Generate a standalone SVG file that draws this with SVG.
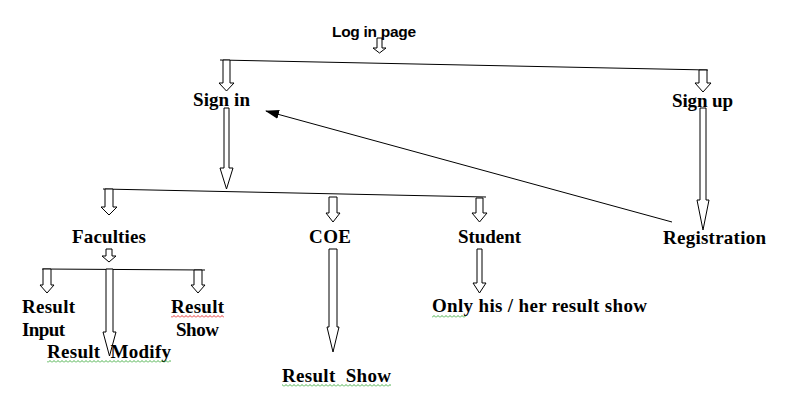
<svg xmlns="http://www.w3.org/2000/svg" width="798" height="416" viewBox="0 0 798 416">
<style>
.t{font-family:"Liberation Serif","Times New Roman",serif;font-weight:bold;font-size:19px;fill:#000}
.s{font-family:"Liberation Sans",Arial,sans-serif;font-weight:bold;font-size:15.5px;fill:#000}
.ba{fill:#fff;stroke:#000;stroke-width:1}
.ln{fill:none;stroke:#000;stroke-width:1}
</style>
<defs>
<marker id="ah" markerWidth="14" markerHeight="10" refX="13" refY="4.5" orient="auto" markerUnits="userSpaceOnUse">
<path d="M0,0 L14,4.5 L0,9 Z" fill="#000"/>
</marker>
<pattern id="wr" patternUnits="userSpaceOnUse" width="4" height="3">
<path d="M0,2.5 L2,0.5 L4,2.5" fill="none" stroke="#e00000" stroke-width="0.8"/>
</pattern>
<pattern id="wg" patternUnits="userSpaceOnUse" width="4" height="3">
<path d="M0,2.5 L2,0.5 L4,2.5" fill="none" stroke="#1a9a1a" stroke-width="0.8"/>
</pattern>
</defs>

<g id="connectors">
<line class="ln" x1="220" y1="60" x2="708" y2="70"/>
<line class="ln" x1="103" y1="189" x2="486" y2="197"/>
<line class="ln" x1="42" y1="269" x2="205" y2="270"/>
<line class="ln" x1="672" y1="222" x2="266" y2="111" marker-end="url(#ah)"/>
<path class="ba" d="M377,38 H382 V48 H386 L379.5,53 L373,48 H377 Z"/>
<path class="ba" d="M223,60 H230 V83 H234 L226.5,91 L219,83 H223 Z"/>
<path class="ba" d="M699,70 H707 V83 H711 L703,92 L695,83 H699 Z"/>
<path class="ba" d="M700,108 H706 V200 H709 L703,230 L697,200 H700 Z"/>
<path class="ba" d="M224,108 H229 V168 H233 L226.5,189 L220,168 H224 Z"/>
<path class="ba" d="M105,189 H113 V207 H117 L109,215 L101,207 H105 Z"/>
<path class="ba" d="M329,197 H337 V213 H340 L333,222 L326,213 H329 Z"/>
<path class="ba" d="M476,198 H483 V213 H487 L479.5,222 L472,213 H476 Z"/>
<path class="ba" d="M106,249 H112 V256 H116 L109,262 L102,256 H106 Z"/>
<path class="ba" d="M43,269 H51 V285 H54 L47,293 L40,285 H43 Z"/>
<path class="ba" d="M194,270 H202 V285 H205 L198,293 L191,285 H194 Z"/>
<path class="ba" d="M106,269 H113 V332 H116 L109.5,356 L103,332 H106 Z"/>
<path class="ba" d="M329,249 H337 V327 H339 L333,352 L327,327 H329 Z"/>
<path class="ba" d="M477,249 H482 V283 H486 L479.5,293 L473,283 H477 Z"/>
</g>

<g id="login"><text class="s" x="332" y="37" textLength="84">Log in page</text></g>
<g id="signin"><text class="t" x="193" y="106" textLength="57">Sign in</text></g>
<g id="signup"><text class="t" x="672" y="107" textLength="61">Sign up</text></g>
<g id="faculties"><text class="t" x="72" y="243" textLength="74">Faculties</text></g>
<g id="coe"><text class="t" x="309" y="243" textLength="42">COE</text></g>
<g id="student"><text class="t" x="458" y="243" textLength="63">Student</text></g>
<g id="registration"><text class="t" x="663" y="244" textLength="103">Registration</text></g>
<g id="result-input"><text class="t" x="22" y="313" textLength="53">Result</text><text class="t" x="22" y="336" textLength="43">Input</text></g>
<g id="result-show-fac"><text class="t" x="171" y="313" textLength="53">Result</text><text class="t" x="176" y="336" textLength="43">Show</text><rect x="171" y="315" width="53" height="3" fill="url(#wr)"/></g>
<g id="result-modify"><text class="t" x="47" y="358" textLength="124" xml:space="preserve">Result  Modify</text><rect x="47" y="360" width="124" height="3" fill="url(#wg)"/></g>
<g id="only-his"><text class="t" x="432" y="312" textLength="215">Only his / her result show</text><rect x="432" y="315" width="34" height="3" fill="url(#wg)"/></g>
<g id="result-show-coe"><text class="t" x="282" y="382" textLength="109" xml:space="preserve">Result  Show</text><rect x="282" y="384" width="109" height="3" fill="url(#wg)"/></g>
</svg>
